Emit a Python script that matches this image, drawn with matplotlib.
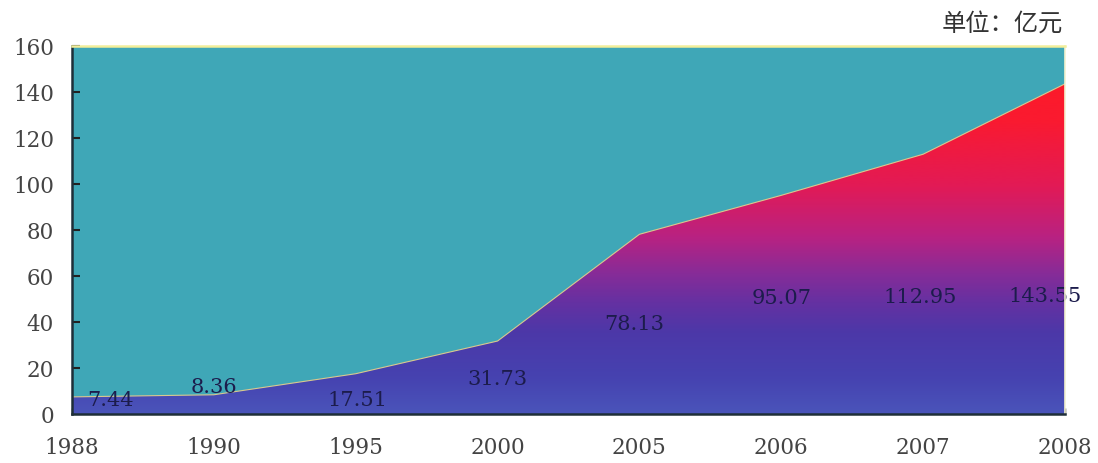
import numpy as np
import matplotlib
matplotlib.use("Agg")
import matplotlib.pyplot as plt
from matplotlib.colors import LinearSegmentedColormap
from matplotlib.patches import Polygon

# ---- data ----
years = ["1988", "1990", "1995", "2000", "2005", "2006", "2007", "2008"]
values = [7.44, 8.36, 17.51, 31.73, 78.13, 95.07, 112.95, 143.55]
value_labels = ["7.44", "8.36", "17.51", "31.73", "78.13", "95.07", "112.95", "143.55"]
y_ticks = [0, 20, 40, 60, 80, 100, 120, 140, 160]
unit_text = "单位：亿元"

# label placement (data-y of label centre, x offset in points)
label_y = [6.5, 11.8, 6.5, 15.5, 39.5, 50.5, 51.0, 51.5]
label_dx = [28, 0, 1, 0, -4, 0, -2, -14]

plt.rcParams['font.family'] = ['DejaVu Serif']

fig = plt.figure(figsize=(10.98, 4.64), dpi=100)
ax = fig.add_axes([72/1098, 49/464, (1065-72)/1098, (415-47)/464])

x = np.arange(len(years))
ax.set_xlim(0, len(years) - 1)
ax.set_ylim(0, 160)
ax.set_facecolor('#3fa7b7')

# gradient-filled area
verts = [(x[0], 0)] + list(zip(x, values)) + [(x[-1], 0)]
poly = Polygon(verts, closed=True, facecolor='none', edgecolor='none')
ax.add_patch(poly)
cmap = LinearSegmentedColormap.from_list(
    'g', [(0.0, '#4a54ba'), (0.10, '#4642b0'), (0.22, '#4c38a8'),
          (0.30, '#6431a2'), (0.38, '#862c98'), (0.48, '#b82282'),
          (0.62, '#e21a56'), (0.80, '#fa1a30'), (1.0, '#ff1a22')])
grad = np.linspace(0, 1, 512).reshape(-1, 1)
im = ax.imshow(grad, cmap=cmap, aspect='auto', origin='lower',
               extent=[x[0], x[-1], 0, 160], interpolation='bilinear', zorder=2)
im.set_clip_path(poly)
ax.plot(x, values, color='#d9c98e', lw=0.8, zorder=3)

# value labels
for i, (lab, ly, dx) in enumerate(zip(value_labels, label_y, label_dx)):
    ax.annotate(lab, xy=(x[i], ly), xytext=(dx, 0), textcoords='offset points',
                ha='center', va='center', fontsize=15, color='#1c1c4c',
                zorder=5, annotation_clip=False)

ax.set_xticks(x)
ax.set_xticklabels(years)
ax.set_yticks(y_ticks)
ax.tick_params(axis='both', direction='in', labelsize=15.5, colors='#222222',
               labelcolor='#444444')
ax.tick_params(axis='y', length=6, width=1.5, pad=13)
ax.tick_params(axis='x', length=4, width=1, pad=16)

for s in ['left', 'bottom']:
    ax.spines[s].set_color('#1e2e38')
    ax.spines[s].set_linewidth(1.8)
ax.spines['top'].set_color('#f2ee9a')
ax.spines['top'].set_linewidth(1.8)
ax.spines['right'].set_color('#f4f2d0')
ax.spines['right'].set_linewidth(1.2)
for sp in ax.spines.values():
    sp.set_zorder(6)

fig.text(1063/1098, 1 - 24/464, unit_text, ha='right', va='center',
         fontsize=17.5, color='#333333',
         family=['Noto Sans CJK SC', 'DejaVu Sans'])

fig.savefig('out.png', dpi=100, facecolor='white')
